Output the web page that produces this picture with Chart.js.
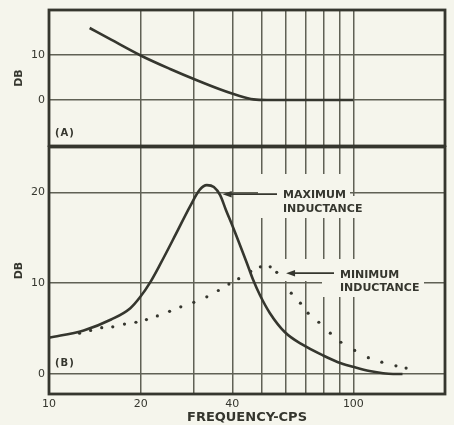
<!DOCTYPE html>
<html>
<head>
<meta charset="utf-8">
<script src="https://cdn.jsdelivr.net/npm/chart.js@4/dist/chart.umd.min.js"></script>
<style>
  html, body { margin: 0; padding: 0; background: #f5f5ec; }
  #wrap { position: relative; width: 454px; height: 425px; overflow: hidden; }
  canvas { position: absolute; left: 0; }
  #chartA { top: 0; }
  #chartB { top: 140px; }
</style>
</head>
<body>
<div id="wrap">
  <canvas id="chartA" width="454" height="147"></canvas>
  <canvas id="chartB" width="454" height="285"></canvas>
</div>
<script>
// ---- frequency axis (log) ----
const xGridValues = [10, 20, 30, 40, 50, 60, 70, 80, 90, 100];
const xTickLabels = [10, 20, 40, 100];

// ---- panel (A) ----
const yTicksA = [0, 10];
const freqA = [13.6, 16, 20, 25, 30.6, 36.4, 42.3, 47, 52, 100];
const dbA   = [16.0, 13.4, 9.9, 6.9, 4.4, 2.4, 0.9, 0.15, 0, 0];

// ---- panel (B) ----
const yTicksB = [0, 10, 20];
// maximum inductance (solid)
const freqMax = [10, 13, 16, 18.5, 19.9, 21.5, 23.2, 26.1, 29.1, 31.3, 33, 34.8, 36.5, 38.1, 40.2, 44.7,
                 46.8, 49.3, 53.2, 59.6, 68.3, 78.9, 89, 99.7, 113, 135, 145];
const dbMax   = [4.0, 4.8, 6.0, 7.25, 8.45, 10.1, 12.1, 15.4, 18.5, 20.3, 20.8, 20.6, 19.7, 18.1, 16.2, 12.2,
                 10.4, 8.7, 6.7, 4.6, 3.2, 2.1, 1.3, 0.8, 0.33, 0, 0];
// minimum inductance (dotted)
const freqMin = [12.6, 13.7, 14.9, 16.2, 17.7, 19.3, 20.9, 22.7, 24.9, 27.1, 29.9, 33, 36, 39, 42, 46, 49.5,
                 53.3, 56, 62.5, 67, 71, 77, 84, 91, 101, 112, 124, 138, 149];
const dbMin   = [4.5, 4.8, 5.1, 5.2, 5.5, 5.7, 6.0, 6.4, 6.9, 7.4, 7.9, 8.5, 9.2, 9.9, 10.5, 11.3, 11.8,
                 11.8, 11.2, 8.9, 7.8, 6.7, 5.7, 4.5, 3.5, 2.6, 1.8, 1.3, 0.9, 0.65];

// callouts: text and the curve point each arrow touches
const maxLabel = ['MAXIMUM', 'INDUCTANCE'];
const maxArrowTip = { x: 37.2, y: 19.8 };
const minLabel = ['MINIMUM', 'INDUCTANCE'];
const minArrowTip = { x: 60.1, y: 11.1 };

const BG = '#f5f5ec';
const INK = '#35362e';
const GRID = '#606155';
const FONT = "'DejaVu Sans', 'Liberation Sans', sans-serif";

const pts = (xs, ys) => xs.map((x, i) => ({ x, y: ys[i] }));

function fixedWidth(w) {
  return function (s) { s.width = w; s.paddingTop = 0; s.paddingBottom = 0; };
}
function fixedHeight(h) {
  return function (s) { s.height = h; s.paddingLeft = 0; s.paddingRight = 0; };
}

const framePlugin = {
  id: 'frame',
  afterDatasetsDraw(chart) {
    const { ctx, chartArea: a } = chart;
    ctx.save();
    ctx.strokeStyle = INK;
    ctx.lineWidth = 2.8;
    ctx.strokeRect(a.left, a.top, a.right - a.left, a.bottom - a.top);
    ctx.restore();
  }
};

function xScaleOptions(showTicks) {
  return {
    type: 'logarithmic',
    min: 10, max: 200,
    afterBuildTicks: s => { s.ticks = xGridValues.map(v => ({ value: v })); },
    afterFit: showTicks ? fixedHeight(31) : fixedHeight(1),
    border: { display: false },
    grid: { color: GRID, lineWidth: 1.5, drawTicks: false },
    ticks: {
      display: showTicks,
      autoSkip: false, maxRotation: 0, padding: 4,
      color: INK, font: { family: FONT, size: 11 },
      callback: v => xTickLabels.includes(v) ? String(v) : ''
    },
    title: showTicks ? {
      display: true, text: 'FREQUENCY-CPS', color: INK,
      font: { family: FONT, size: 13, weight: 'bold', lineHeight: 1 },
      padding: { top: 0, bottom: 1 }
    } : { display: false }
  };
}

function yScaleOptions(min, max, tickValues) {
  return {
    type: 'linear',
    min, max,
    afterBuildTicks: s => { s.ticks = tickValues.map(v => ({ value: v })); },
    afterFit: fixedWidth(49),
    border: { display: false },
    grid: { color: GRID, lineWidth: 1.5, drawTicks: false },
    ticks: { padding: 4, color: INK, font: { family: FONT, size: 11 } },
    title: {
      display: true, text: 'DB', color: INK,
      font: { family: FONT, size: 11, weight: 'bold', lineHeight: 1.2 },
      padding: { top: 13, bottom: 0 }
    }
  };
}

function panelTag(text, px, py) {
  return {
    id: 'tag' + text,
    afterDatasetsDraw(chart) {
      const ctx = chart.ctx;
      ctx.save();
      ctx.fillStyle = INK;
      ctx.font = 'bold 10px ' + FONT;
      ctx.letterSpacing = '1px';
      ctx.textBaseline = 'middle';
      ctx.fillText(text, px, py);
      ctx.restore();
    }
  };
}

// ---- chart (A) ----
new Chart(document.getElementById('chartA'), {
  type: 'line',
  data: {
    datasets: [{
      data: pts(freqA, dbA),
      borderColor: INK, borderWidth: 2.6,
      pointRadius: 0, cubicInterpolationMode: 'monotone', fill: false
    }]
  },
  options: {
    responsive: false, animation: false, devicePixelRatio: 1,
    layout: { padding: { top: 10, right: 9, left: 0, bottom: 0 } },
    plugins: { legend: { display: false }, tooltip: { enabled: false } },
    scales: { x: xScaleOptions(false), y: yScaleOptions(-10.2, 20, yTicksA) }
  },
  plugins: [framePlugin, panelTag('(A)', 55, 133)]
});

// ---- chart (B) ----
const B_TOP = 140; // page offset of the lower canvas
// areas behind the callout lettering that stay clear of grid lines (page pixels)
const clearAreas = [
  [258, 174, 350, 218], [350, 196, 372, 218],
  [283, 259, 424, 281], [322, 281, 424, 297]
];

function drawArrow(ctx, tailX, tip) {
  ctx.beginPath();
  ctx.moveTo(tailX, tip.y);
  ctx.lineTo(tip.x + 6, tip.y);
  ctx.lineWidth = 1.8;
  ctx.stroke();
  ctx.beginPath();
  ctx.moveTo(tip.x, tip.y);
  ctx.lineTo(tip.x + 9, tip.y - 3.2);
  ctx.lineTo(tip.x + 9, tip.y + 3.2);
  ctx.closePath();
  ctx.fill();
}

const calloutPlugin = {
  id: 'callouts',
  beforeDatasetsDraw(chart) {
    const ctx = chart.ctx;
    ctx.save();
    ctx.fillStyle = BG;
    clearAreas.forEach(([x0, y0, x1, y1]) => ctx.fillRect(x0, y0 - B_TOP, x1 - x0, y1 - y0));
    ctx.restore();
  },
  afterDatasetsDraw(chart) {
    const { ctx, scales: { x, y } } = chart;
    ctx.save();
    ctx.fillStyle = INK;
    ctx.strokeStyle = INK;
    const tipMax = { x: x.getPixelForValue(maxArrowTip.x), y: y.getPixelForValue(maxArrowTip.y) };
    const tipMin = { x: x.getPixelForValue(minArrowTip.x), y: y.getPixelForValue(minArrowTip.y) };
    drawArrow(ctx, 277, tipMax);
    drawArrow(ctx, 334, tipMin);
    ctx.font = 'bold 11px ' + FONT;
    ctx.textBaseline = 'middle';
    ctx.fillText(maxLabel[0], 283, 195 - B_TOP);
    ctx.fillText(maxLabel[1], 283, 209 - B_TOP);
    ctx.fillText(minLabel[0], 340, 275 - B_TOP);
    ctx.fillText(minLabel[1], 340, 288 - B_TOP);
    ctx.restore();
  }
};

new Chart(document.getElementById('chartB'), {
  type: 'line',
  data: {
    datasets: [
      {
        label: 'MAXIMUM INDUCTANCE',
        data: pts(freqMax, dbMax),
        borderColor: INK, borderWidth: 2.6,
        pointRadius: 0, cubicInterpolationMode: 'monotone', fill: false
      },
      {
        label: 'MINIMUM INDUCTANCE',
        data: pts(freqMin, dbMin),
        showLine: false,
        pointRadius: 1.6, pointBorderWidth: 0,
        pointBackgroundColor: INK, borderColor: INK
      }
    ]
  },
  options: {
    responsive: false, animation: false, devicePixelRatio: 1,
    layout: { padding: { top: 7, right: 9, left: 0, bottom: 0 } },
    plugins: { legend: { display: false }, tooltip: { enabled: false } },
    scales: { x: xScaleOptions(true), y: yScaleOptions(-2.2, 25, yTicksB) }
  },
  plugins: [calloutPlugin, framePlugin, panelTag('(B)', 55, 363 - B_TOP)]
});
</script>
</body>
</html>
